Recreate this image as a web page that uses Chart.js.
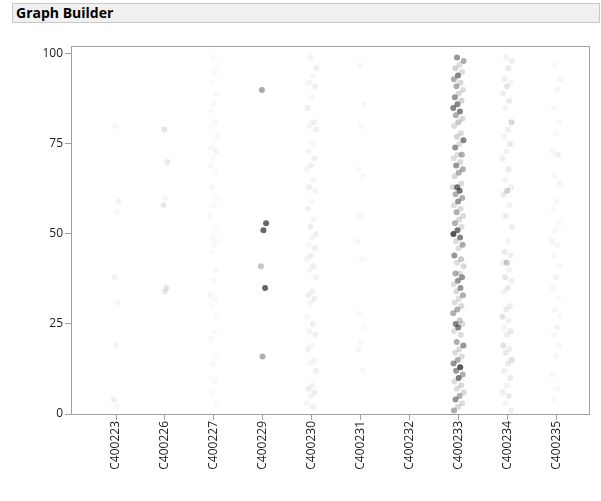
<!DOCTYPE html>
<html>
<head>
<meta charset="utf-8">
<script src="https://cdn.jsdelivr.net/npm/chart.js@4/dist/chart.umd.min.js"></script>
<style>
  html, body { margin: 0; padding: 0; background: #ffffff; }
  #wrap { position: relative; width: 601px; height: 501px; }
  #titlebar {
    position: absolute; left: 12px; top: 3px; width: 583px; height: 18px;
    background: #f0f0f0; border: 1px solid #c8c8c8;
    font-family: "Open Sans", "DejaVu Sans", sans-serif; font-weight: bold;
    font-size: 14px; line-height: 18px; color: #000; padding-left: 3px; box-sizing: content-box;
  }
  canvas { position: absolute; left: 0; top: 0; }
</style>
</head>
<body>
<div id="wrap">
  <canvas id="c" width="601" height="501"></canvas>
  <div id="titlebar">Graph Builder</div>
</div>
<script>
// ---- data ----
const categories = ['C400223','C400226','C400227','C400229','C400230','C400231','C400232','C400233','C400234','C400235'];
const yTicks = [0, 25, 50, 75, 100];

const vals223 = [80, 59, 56, 38, 31, 19, 4, 2];
const int223  = [0.04, 0.06, 0.04, 0.07, 0.04, 0.05, 0.07, 0.03];

const vals226 = [79, 70, 60, 58, 35, 34];
const int226  = [0.12, 0.1, 0.04, 0.11, 0.12, 0.1];

const vals227 = [99, 97, 95, 92, 89, 86, 84, 81, 80, 77, 76, 74, 73, 71, 69, 67, 63, 60, 58, 55, 52, 49, 48, 47, 45, 40, 37, 33, 32, 30, 27, 23, 21, 17, 14, 10, 9, 6, 3];
const int227  = [0.03, 0.025, 0.03, 0.025, 0.03, 0.03, 0.025, 0.03, 0.025, 0.03, 0.025, 0.03, 0.05, 0.025, 0.03, 0.025, 0.03, 0.025, 0.03, 0.03, 0.025, 0.03, 0.025, 0.03, 0.025, 0.04, 0.03, 0.04, 0.025, 0.03, 0.025, 0.03, 0.03, 0.025, 0.03, 0.025, 0.03, 0.025, 0.03];

const vals229 = [90, 53, 51, 41, 35, 16];
const int229  = [0.4, 0.72, 0.72, 0.28, 0.72, 0.38];

const vals230 = [99, 96, 94, 92, 91, 88, 85, 81, 80, 79, 75, 73, 71, 69, 68, 65, 63, 62, 59, 57, 54, 52, 50, 49, 47, 46, 44, 43, 41, 40, 38, 34, 33, 32, 31, 27, 25, 23, 22, 19, 18, 15, 14, 12, 8, 7, 6, 5, 3, 2];
const int230  = [0.05, 0.07, 0.04, 0.05, 0.08, 0.04, 0.07, 0.08, 0.05, 0.07, 0.04, 0.05, 0.07, 0.08, 0.05, 0.04, 0.07, 0.05, 0.04, 0.07, 0.05, 0.08, 0.07, 0.05, 0.04, 0.07, 0.08, 0.05, 0.07, 0.04, 0.05, 0.07, 0.08, 0.07, 0.05, 0.04, 0.07, 0.05, 0.08, 0.04, 0.07, 0.05, 0.04, 0.07, 0.05, 0.08, 0.07, 0.05, 0.04, 0.07];

const vals231 = [97, 86, 80, 68, 66, 55, 48, 43, 28, 24, 20, 18, 12];
const int231  = [0.035, 0.04, 0.03, 0.035, 0.03, 0.035, 0.04, 0.03, 0.035, 0.03, 0.04, 0.03, 0.035];

const vals232 = [];
const int232  = [];

const vals233 = [99, 98, 97, 96, 95, 94, 93, 92, 91, 90, 89, 88, 87, 86, 85, 84, 83, 82, 81, 80, 78, 77, 76, 75, 74, 72, 72, 71, 70, 69, 68, 67, 66, 64, 63, 63, 62, 61, 60, 59, 58, 57, 56, 55, 54, 53, 52, 51, 50, 49, 48, 47, 46, 44, 43, 42, 41, 39, 39, 38, 37, 36, 35, 34, 33, 32, 31, 30, 29, 28, 26, 25, 25, 24, 23, 22, 20, 19, 18, 17, 16, 15, 14, 13, 12, 11, 10, 9, 8, 7, 6, 5, 4, 3, 2, 1];
const int233  = [0.5, 0.38, 0.16, 0.2, 0.16, 0.58, 0.38, 0.18, 0.38, 0.16, 0.18, 0.5, 0.2, 0.58, 0.58, 0.58, 0.38, 0.18, 0.25, 0.16, 0.16, 0.2, 0.58, 0.16, 0.5, 0.38, 0.16, 0.16, 0.18, 0.5, 0.38, 0.38, 0.18, 0.16, 0.65, 0.18, 0.65, 0.38, 0.38, 0.5, 0.16, 0.16, 0.38, 0.18, 0.18, 0.38, 0.16, 0.65, 0.82, 0.58, 0.16, 0.4, 0.16, 0.5, 0.25, 0.16, 0.18, 0.18, 0.38, 0.5, 0.5, 0.16, 0.5, 0.18, 0.38, 0.16, 0.16, 0.18, 0.38, 0.38, 0.25, 0.58, 0.16, 0.58, 0.16, 0.16, 0.38, 0.5, 0.18, 0.16, 0.16, 0.38, 0.5, 0.78, 0.5, 0.38, 0.62, 0.16, 0.18, 0.16, 0.18, 0.38, 0.5, 0.16, 0.18, 0.38];

const vals234 = [99, 98, 96, 93, 92, 91, 89, 87, 85, 81, 79, 77, 75, 73, 71, 68, 65, 63, 62, 61, 58, 55, 52, 48, 45, 44, 42, 42, 40, 38, 37, 35, 34, 30, 29, 27, 26, 24, 23, 22, 19, 18, 17, 15, 14, 12, 10, 8, 6, 5, 3, 1];
const int234  = [0.06, 0.08, 0.1, 0.08, 0.06, 0.12, 0.08, 0.1, 0.06, 0.18, 0.08, 0.06, 0.1, 0.06, 0.08, 0.1, 0.06, 0.08, 0.22, 0.1, 0.06, 0.1, 0.08, 0.06, 0.1, 0.08, 0.25, 0.08, 0.06, 0.12, 0.08, 0.1, 0.06, 0.08, 0.1, 0.14, 0.08, 0.06, 0.1, 0.08, 0.14, 0.08, 0.1, 0.14, 0.1, 0.08, 0.1, 0.06, 0.08, 0.1, 0.06, 0.08];

const vals235 = [97, 93, 90, 85, 81, 78, 73, 72, 66, 64, 59, 57, 53, 51, 48, 47, 44, 41, 38, 35, 32, 29, 27, 24, 22, 19, 16, 11, 7, 4];
const int235  = [0.03, 0.05, 0.04, 0.03, 0.04, 0.03, 0.04, 0.07, 0.03, 0.05, 0.04, 0.03, 0.04, 0.03, 0.05, 0.03, 0.04, 0.03, 0.05, 0.04, 0.03, 0.04, 0.03, 0.05, 0.03, 0.04, 0.03, 0.04, 0.03, 0.03];

const columnValues = [vals223, vals226, vals227, vals229, vals230, vals231, vals232, vals233, vals234, vals235];
const columnIntensity = [int223, int226, int227, int229, int230, int231, int232, int233, int234, int235];

// ---- style ----
const jitterWidth = [0.05, 0.05, 0.08, 0.07, 0.1, 0.07, 0.08, 0.11, 0.1, 0.09];
function jitter(i, w) {
  const f = (i * 0.6180339887 + 0.37) % 1;
  return w * (f * 2 - 1);
}

const datasets = columnValues.map((vals, ci) => ({
  label: categories[ci],
  data: vals.map((v, i) => ({ x: ci + jitter(i, jitterWidth[ci]), y: v })),
  pointRadius: 3,
  pointHoverRadius: 3,
  pointBorderWidth: 0,
  pointBackgroundColor: columnIntensity[ci].map(a => 'rgba(45,45,45,' + a + ')'),
  borderColor: 'rgba(0,0,0,0)'
}));

const frame = {
  id: 'frame',
  afterDatasetsDraw(chart) {
    const a = chart.chartArea, ctx = chart.ctx;
    ctx.save();
    ctx.strokeStyle = '#a0a0a0';
    ctx.lineWidth = 1;
    ctx.strokeRect(Math.round(a.left) + 0.5, Math.round(a.top) + 0.5,
                   Math.round(a.right - a.left) - 1, Math.round(a.bottom - a.top));
    ctx.restore();
  }
};

const tickFont = { family: '"Open Sans", "DejaVu Sans", sans-serif', size: 12 };

new Chart(document.getElementById('c'), {
  type: 'scatter',
  data: { datasets },
  plugins: [frame],
  options: {
    responsive: false,
    animation: false,
    layout: { padding: { top: 46, right: 11, left: 0, bottom: 0 } },
    plugins: { legend: { display: false }, tooltip: { enabled: false } },
    scales: {
      x: {
        type: 'linear',
        min: -0.92,
        max: 9.69,
        afterBuildTicks(scale) { scale.ticks = categories.map((_, i) => ({ value: i })); },
        afterFit(scale) { scale.height = 87; },
        ticks: {
          autoSkip: false, minRotation: 90, maxRotation: 90, padding: 1,
          color: '#222', font: tickFont,
          callback: (v) => categories[v]
        },
        grid: { display: true, drawOnChartArea: false, drawTicks: true, tickLength: 6, color: '#a0a0a0' },
        border: { display: false }
      },
      y: {
        type: 'linear',
        min: 0,
        max: 102.2,
        afterBuildTicks(scale) { scale.ticks = yTicks.map(v => ({ value: v })); },
        afterFit(scale) { scale.width = 71; },
        ticks: { color: '#222', font: tickFont, padding: 2 },
        grid: { display: true, drawOnChartArea: false, drawTicks: true, tickLength: 6, color: '#a0a0a0' },
        border: { display: false }
      }
    }
  }
});
</script>
</body>
</html>
